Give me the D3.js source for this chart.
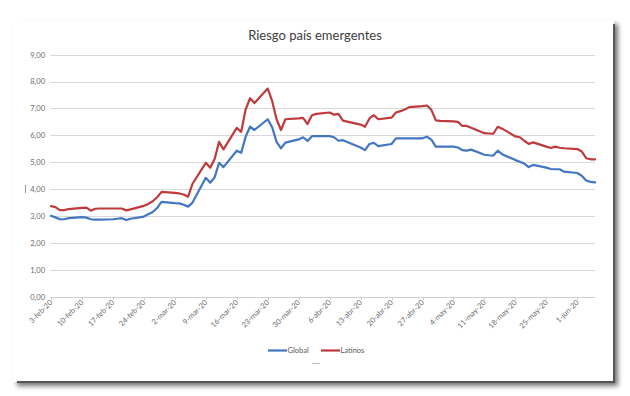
<!DOCTYPE html>
<html><head><meta charset="utf-8">
<script src="https://cdn.jsdelivr.net/npm/d3@7"></script>
<style>
html,body{margin:0;padding:0;background:#fff;}
svg{display:block;}
</style></head>
<body>
<svg id="chart" width="630" height="396"></svg>
<script>
const dates = [
"2020-02-03","2020-02-04","2020-02-05","2020-02-06","2020-02-07",
"2020-02-10","2020-02-11","2020-02-12","2020-02-13","2020-02-14",
"2020-02-17","2020-02-18","2020-02-19","2020-02-20","2020-02-21",
"2020-02-24","2020-02-25","2020-02-26","2020-02-27","2020-02-28",
"2020-03-02","2020-03-03","2020-03-04","2020-03-05","2020-03-06",
"2020-03-09","2020-03-10","2020-03-11","2020-03-12","2020-03-13",
"2020-03-16","2020-03-17","2020-03-18","2020-03-19","2020-03-20",
"2020-03-23","2020-03-24","2020-03-25","2020-03-26","2020-03-27",
"2020-03-30","2020-03-31","2020-04-01","2020-04-02","2020-04-03",
"2020-04-06","2020-04-07","2020-04-08","2020-04-09",
"2020-04-13","2020-04-14","2020-04-15","2020-04-16","2020-04-17",
"2020-04-20","2020-04-21","2020-04-22","2020-04-23","2020-04-24",
"2020-04-27","2020-04-28","2020-04-29","2020-04-30","2020-05-01",
"2020-05-04","2020-05-05","2020-05-06","2020-05-07","2020-05-08",
"2020-05-11","2020-05-12","2020-05-13","2020-05-14","2020-05-15",
"2020-05-18","2020-05-19","2020-05-20","2020-05-21","2020-05-22",
"2020-05-25","2020-05-26","2020-05-27","2020-05-28","2020-05-29",
"2020-06-01","2020-06-02","2020-06-03","2020-06-04","2020-06-05"
];
const globalValues = [
3.01,2.95,2.88,2.88,2.92,
2.96,2.94,2.88,2.87,2.87,
2.88,2.90,2.92,2.85,2.90,
2.98,3.07,3.15,3.30,3.53,
3.48,3.47,3.42,3.35,3.50,
4.42,4.24,4.44,4.98,4.82,
5.43,5.35,5.95,6.32,6.20,
6.60,6.30,5.76,5.52,5.73,
5.85,5.93,5.79,5.97,5.97,
5.97,5.93,5.80,5.82,
5.55,5.45,5.68,5.72,5.60,
5.68,5.89,5.89,5.89,5.89,
5.89,5.95,5.84,5.58,5.58,
5.58,5.55,5.45,5.43,5.47,
5.28,5.26,5.25,5.43,5.30,
5.08,5.02,4.95,4.82,4.90,
4.80,4.75,4.74,4.74,4.65,
4.60,4.50,4.32,4.27,4.25
];
const latinosValues = [
3.37,3.33,3.22,3.22,3.26,
3.30,3.31,3.20,3.27,3.28,
3.28,3.28,3.28,3.21,3.25,
3.38,3.45,3.55,3.70,3.90,
3.86,3.84,3.80,3.72,4.20,
4.98,4.80,5.12,5.76,5.48,
6.28,6.13,6.96,7.38,7.20,
7.74,7.28,6.60,6.20,6.60,
6.63,6.65,6.42,6.75,6.80,
6.85,6.77,6.80,6.55,
6.40,6.32,6.63,6.75,6.60,
6.66,6.85,6.90,6.96,7.05,
7.09,7.11,6.95,6.56,6.54,
6.52,6.50,6.35,6.35,6.28,
6.08,6.07,6.06,6.32,6.25,
5.96,5.93,5.80,5.68,5.74,
5.58,5.53,5.58,5.54,5.52,
5.49,5.40,5.15,5.11,5.11
];
const yTicks = [0,1,2,3,4,5,6,7,8,9];
const xTickDates = ["2020-02-03","2020-02-10","2020-02-17","2020-02-24","2020-03-02","2020-03-09","2020-03-16","2020-03-23","2020-03-30","2020-04-06","2020-04-13","2020-04-20","2020-04-27","2020-05-04","2020-05-11","2020-05-18","2020-05-25","2020-06-01"];
const monthNames = ["ene","feb","mar","abr","may","jun","jul","ago","sep","oct","nov","dic"];
const seriesNames = ["Global","Latinos"];
const seriesColors = ["#4376c2","#c0393b"];
const title = "Riesgo país emergentes";

const parse = d3.utcParse("%Y-%m-%d");
const svg = d3.select("#chart");

// frame with shadow
const defs = svg.append("defs");
const f = defs.append("filter").attr("id","sh").attr("x","-5%").attr("y","-5%").attr("width","115%").attr("height","115%");
f.append("feGaussianBlur").attr("in","SourceAlpha").attr("stdDeviation",2.5);
f.append("feOffset").attr("dx",4).attr("dy",4).attr("result","ob");
f.append("feComponentTransfer").append("feFuncA").attr("type","linear").attr("slope",0.55);
const m = f.append("feMerge"); m.append("feMergeNode"); m.append("feMergeNode").attr("in","SourceGraphic");
svg.append("rect").attr("x",13).attr("y",20).attr("width",601).attr("height",362)
  .attr("fill","#fff").attr("filter","url(#sh)");
svg.append("line").attr("x1",614).attr("x2",614).attr("y1",24).attr("y2",383).attr("stroke","#555").attr("stroke-width",2);
svg.append("line").attr("x1",17).attr("x2",615).attr("y1",382).attr("y2",382).attr("stroke","#555").attr("stroke-width",2);

const x = d3.scaleUtc().domain([parse("2020-02-03"), parse("2020-06-05")]).range([51, 595]);
const y = d3.scaleLinear().domain([0,9]).range([296.7, 54.7]);

// gridlines
svg.append("g").selectAll("line").data(yTicks).join("line")
  .attr("x1",50).attr("x2",595)
  .attr("y1",d=>Math.round(y(d))+0.5).attr("y2",d=>Math.round(y(d))+0.5)
  .attr("stroke",d=>d===0?"#cfcfcf":"#d9d9d9").attr("stroke-width",1);

// y labels
svg.append("g").selectAll("text").data(yTicks).join("text")
  .attr("x",45).attr("y",d=>y(d)+2.8)
  .attr("text-anchor","end")
  .attr("font-family","Lato, 'Open Sans', sans-serif").attr("font-size",7.5)
  .attr("fill","#6a6a6a")
  .text(d=>d3.format(".2f")(d).replace(".",","));

// x ticks & labels
const xt = xTickDates.map(parse);
const fmt = d=>`${d.getUTCDate()}-${monthNames[d.getUTCMonth()]}-${String(d.getUTCFullYear()).slice(2)}`;
svg.append("g").selectAll("line").data(xt).join("line")
  .attr("x1",d=>Math.round(x(d))+0.5).attr("x2",d=>Math.round(x(d))+0.5)
  .attr("y1",297).attr("y2",300).attr("stroke","#cfcfcf");
svg.append("g").selectAll("text").data(xt).join("text")
  .attr("transform",d=>`translate(${x(d)+2},${303}) rotate(-45)`)
  .attr("text-anchor","end")
  .attr("font-family","Lato, 'Open Sans', sans-serif").attr("font-size",7.5)
  .attr("fill","#6a6a6a")
  .text(fmt);

// lines
const series = [globalValues, latinosValues];
const line = d3.line().x(d=>x(d.date)).y(d=>y(d.v));
series.forEach((vals,i)=>{
  const data = dates.map((d,j)=>({date:parse(d), v:vals[j]}));
  svg.append("path").datum(data).attr("d",line)
    .attr("fill","none").attr("stroke",seriesColors[i]).attr("stroke-width",2.2)
    .attr("stroke-linejoin","round").attr("stroke-linecap","round");
});

// title
svg.append("text").attr("x",315).attr("y",40).attr("text-anchor","middle")
  .attr("font-family","Lato, 'Open Sans', sans-serif").attr("font-size",13)
  .attr("fill","#404040").text(title);

// legend
const lg = svg.append("g");
const lx = [268, 321];
seriesNames.forEach((n,i)=>{
  lg.append("line").attr("x1",lx[i]).attr("x2",lx[i]+19).attr("y1",350.5).attr("y2",350.5)
    .attr("stroke",seriesColors[i]).attr("stroke-width",2.2);
  lg.append("text").attr("x",lx[i]+19.5).attr("y",353).attr("font-family","Lato, 'Open Sans', sans-serif")
    .attr("font-size",7.5).attr("fill","#595959").text(n);
});
// small artifacts
svg.append("line").attr("x1",312).attr("x2",320).attr("y1",363.5).attr("y2",363.5).attr("stroke","#bbb");
svg.append("line").attr("x1",25.5).attr("x2",25.5).attr("y1",185).attr("y2",193).attr("stroke","#999");
</script>
</body></html>
